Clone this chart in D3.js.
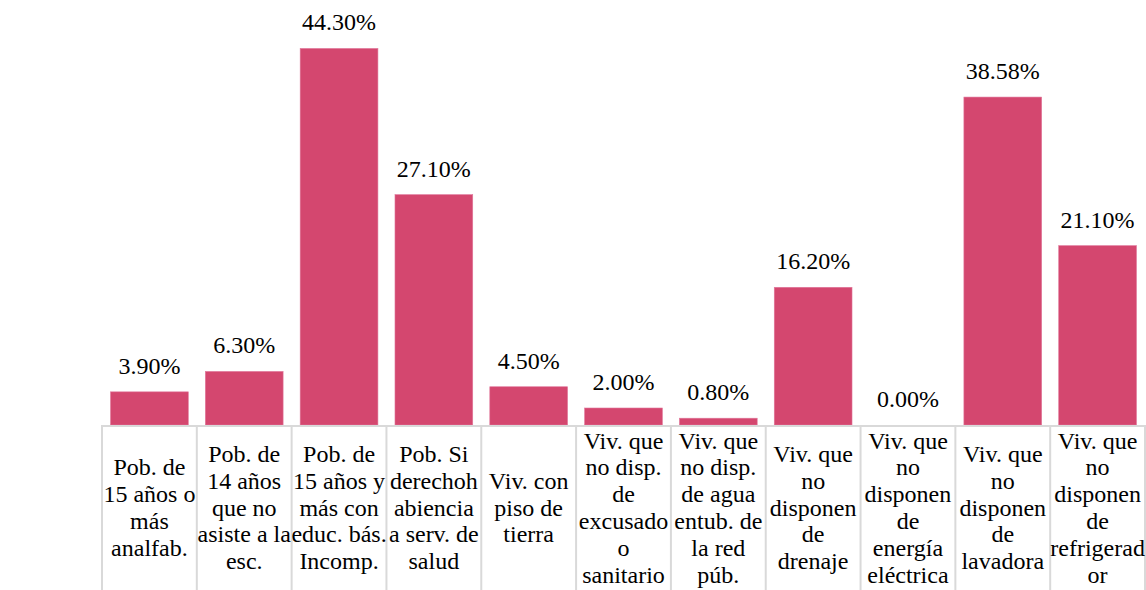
<!DOCTYPE html>
<html>
<head>
<meta charset="utf-8">
<script src="https://cdn.jsdelivr.net/npm/d3@7"></script>
<style>
  body { margin: 0; background: #fff; }
</style>
</head>
<body>
<svg id="chart" width="1146" height="590"></svg>
<script>
// categories, with the line breaks as seen in the chart
const categories = [
  ["Pob. de", "15 años o", "más", "analfab."],
  ["Pob. de", "14 años", "que no", "asiste a la", "esc."],
  ["Pob. de", "15 años y", "más con", "educ. bás.", "Incomp."],
  ["Pob. Si", "derechoh", "abiencia", "a serv. de", "salud"],
  ["Viv. con", "piso de", "tierra"],
  ["Viv. que", "no disp.", "de", "excusado", "o", "sanitario"],
  ["Viv. que", "no disp.", "de agua", "entub. de", "la red", "púb."],
  ["Viv. que", "no", "disponen", "de", "drenaje"],
  ["Viv. que", "no", "disponen", "de", "energía", "eléctrica"],
  ["Viv. que", "no", "disponen", "de", "lavadora"],
  ["Viv. que", "no", "disponen", "de", "refrigerad", "or"]
];
const values = [3.90, 6.30, 44.30, 27.10, 4.50, 2.00, 0.80, 16.20, 0.00, 38.58, 21.10];

const FONT = '"Liberation Serif", "Times New Roman", serif';
const svg = d3.select('#chart');
const baseY = 425;

let x = d3.scaleBand()
  .domain(d3.range(values.length))
  .range([102, 1145])
  .paddingInner(0.18)
  .paddingOuter(0.09);

let y = d3.scaleLinear()
  .domain([0, 50])
  .range([baseY, 0]);

// bars
svg.selectAll('rect.bar')
  .data(values)
  .enter().append('rect')
  .attr('class', 'bar')
  .attr('x', (d, i) => x(i))
  .attr('y', d => y(d))
  .attr('width', x.bandwidth())
  .attr('height', d => baseY - y(d))
  .attr('fill', '#d4476f')
  .attr('stroke', '#e0769a')
  .attr('stroke-width', 0.6);

// value labels
svg.selectAll('text.val')
  .data(values)
  .enter().append('text')
  .attr('class', 'val')
  .attr('x', (d, i) => x(i) + x.bandwidth() / 2)
  .attr('y', d => y(d) - 18)
  .attr('text-anchor', 'middle')
  .style('font-family', FONT)
  .style('font-size', '24px')
  .style('fill', '#000')
  .text(d => d.toFixed(2) + '%');

// category table lines
const left = 102, right = 1145;
svg.append('line')
  .attr('x1', left).attr('x2', 1146)
  .attr('y1', baseY + 1).attr('y2', baseY + 1)
  .attr('stroke', '#d9d9d9').attr('stroke-width', 2);
svg.selectAll('line.sep')
  .data(d3.range(values.length + 1))
  .enter().append('line')
  .attr('class', 'sep')
  .attr('x1', i => left + i * (right - left) / values.length)
  .attr('x2', i => left + i * (right - left) / values.length)
  .attr('y1', baseY)
  .attr('y2', 590)
  .attr('stroke', '#d9d9d9').attr('stroke-width', 2);

// category labels, centered vertically in the table row
const lineH = 26.8;
const midY = 507.5;
categories.forEach((lines, i) => {
  let cx = x(i) + x.bandwidth() / 2;
  let top = midY - (lines.length - 1) * lineH / 2;
  lines.forEach((ln, j) => {
    svg.append('text')
      .attr('class', 'cat')
      .attr('x', cx)
      .attr('y', top + j * lineH + 8)
      .attr('text-anchor', 'middle')
      .style('font-family', FONT)
      .style('font-size', '24px')
      .style('fill', '#000')
      .text(ln);
  });
});
</script>
</body>
</html>
